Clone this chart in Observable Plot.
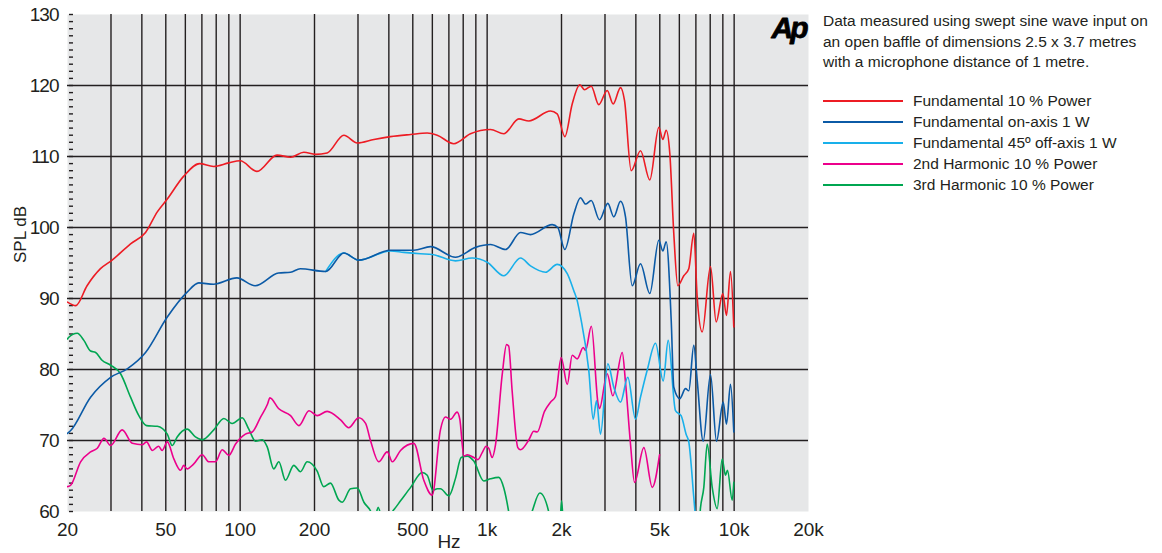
<!DOCTYPE html>
<html><head><meta charset="utf-8">
<script src="https://cdn.jsdelivr.net/npm/d3@7"></script>
<script src="https://cdn.jsdelivr.net/npm/@observablehq/plot@0.6"></script>
<style>
html,body{margin:0;padding:0;background:#fff;}
#wrap{position:relative;width:1162px;height:553px;overflow:hidden;font-family:"Liberation Sans",Arial,sans-serif;}
#note{position:absolute;left:823px;top:11px;font-size:15.5px;line-height:20.5px;color:#231f20;white-space:nowrap;}
#legend{position:absolute;left:823px;top:90px;font-size:15.5px;color:#231f20;}
.row{display:flex;align-items:center;height:21px;white-space:nowrap;}
.sw{width:80px;height:2px;margin-right:10px;}
#chart [aria-label="x tick labels"], #chart [aria-label="y-axis tick label"]{letter-spacing:-1px;}
</style></head>
<body>
<div id="wrap">
  <div id="chart"></div>
  <div id="note">Data measured using swept sine wave input on<br>an open baffle of dimensions 2.5 x 3.7 metres<br>with a microphone distance of 1 metre.</div>
  <div id="legend"></div>
</div>
<script>
// ---- data: [frequency Hz, SPL dB] ----
const fundamental10 = [[20,89.5],[21.6,89.0],[24,91.8],[27.2,94.2],[30.3,95.4],[36,97.7],[41.4,99.3],[46.2,102.2],[50.7,104.0],[59,107.2],[68.5,109.0],[78,108.6],[90,109.1],[100,109.4],[117,107.9],[141,110.2],[160,109.9],[181,110.6],[202,110.3],[225,110.5],[263,113.0],[298,111.9],[348,112.4],[406,112.8],[490,113.1],[572,113.3],[628,113.0],[733,111.8],[856,113.2],[1032,113.8],[1168,113.2],[1344,115.3],[1475,115.0],[1805,116.4],[1921,116.0],[2063,112.8],[2210,117.4],[2372,120.1],[2479,119.4],[2638,119.9],[2831,117.3],[3062,119.3],[3238,117.4],[3467,119.7],[3598,117.9],[3830,108.0],[4177,110.8],[4555,106.7],[4955,114.1],[5143,112.4],[5308,113.7],[5490,110.4],[5698,99.1],[5914,91.8],[6253,93.2],[6552,94.2],[6864,99.2],[7085,90.2],[7424,85.3],[8021,94.5],[8459,86.7],[8995,90.7],[9311,87.6],[9665,93.8],[9968,86.0]];
const onAxis1W = [[20,71.0],[20.6,71.4],[24.8,76.1],[29.9,78.9],[34.9,80.1],[41.4,82.4],[50.7,87.4],[61,90.9],[68,92.2],[78,92.0],[97,92.9],[115,91.8],[143,93.6],[160,93.7],[175,94.2],[222,93.8],[263,96.4],[302,95.4],[406,96.8],[505,96.8],[590,97.3],[744,95.8],[897,97.2],[1032,97.6],[1187,96.9],[1365,99.3],[1498,99.0],[1834,100.4],[1932,100.0],[2063,96.9],[2243,101.9],[2388,104.2],[2502,103.3],[2638,103.8],[2850,101.1],[3080,103.4],[3257,101.5],[3467,103.7],[3632,101.5],[3866,91.8],[4177,94.9],[4555,90.7],[4955,98.2],[5143,96.7],[5308,98.0],[5562,86.9],[5698,77.5],[6026,75.9],[6356,77.3],[6552,77.0],[6864,83.4],[7085,78.5],[7494,69.9],[8021,79.3],[8484,69.9],[9028,75.4],[9311,72.3],[9665,77.9],[9968,71.2]];
const offAxis1W = [[222,93.8],[263,96.4],[302,95.4],[406,96.7],[460,96.5],[537,96.3],[599,96.2],[744,95.3],[870,95.7],[1001,95.1],[1168,93.2],[1365,95.7],[1498,94.6],[1723,93.7],[1921,94.8],[2110,93.5],[2243,91.1],[2315,89.7],[2388,87.4],[2579,79.9],[2688,73.0],[2772,75.6],[2877,70.9],[3080,80.8],[3257,77.5],[3467,75.4],[3710,78.9],[3988,73.0],[4177,76.1],[4446,79.9],[4805,83.7],[5162,78.4],[5408,84.1],[5788,74.2],[6100,73.5],[6400,70.8],[6552,69.8],[6864,62.0],[7060,57.0]];
const harmonic2 = [[20,63.5],[20.6,63.7],[22.6,67.0],[24.8,68.4],[26.4,68.9],[28.1,70.3],[29.9,69.3],[33.3,71.5],[36.6,69.6],[40.1,69.4],[41.8,69.8],[44.1,68.6],[46.8,69.2],[48.3,68.6],[50.7,69.8],[53.9,67.4],[57.4,65.8],[59.1,66.5],[61,66.0],[64.9,66.7],[70.2,68.0],[74.7,67.0],[79.5,67.0],[84.6,68.7],[90,67.9],[95.8,69.5],[105,70.9],[112,71.2],[121,73.3],[129,75.1],[132,76.0],[143,74.5],[160,73.5],[173,72.1],[190,74.2],[205,73.5],[225,74.1],[255,72.9],[275,71.8],[302,73.2],[322,72.4],[337,70.0],[364,67.0],[394,68.4],[413,67.0],[446,68.6],[505,69.6],[554,64.4],[599,62.3],[647,71.5],[678,73.3],[711,73.0],[756,74.0],[775,73.0],[805,67.8],[831,68.0],[883,67.6],[917,67.3],[955,68.3],[991,69.2],[1016,68.9],[1047,67.6],[1081,69.4],[1151,79.3],[1198,83.5],[1222,83.3],[1263,76.9],[1331,69.0],[1365,68.7],[1475,70.1],[1545,71.3],[1595,71.2],[1707,74.1],[1805,75.4],[1891,76.2],[1994,81.7],[2110,77.9],[2210,82.0],[2315,81.5],[2449,83.1],[2502,82.7],[2642,86.1],[2812,75.2],[2850,74.5],[3062,79.4],[3227,76.3],[3523,82.4],[3632,78.2],[3805,69.5],[3951,64.1],[4310,69.0],[4661,63.4],[4989,68.0]];
const harmonic3 = [[20,84.3],[20.2,84.5],[21.9,85.1],[23.3,84.1],[24.8,82.6],[26,82.4],[27.6,81.3],[29.9,80.6],[32.8,79.4],[36,76.1],[38.9,73.5],[41.8,72.1],[46.2,72.0],[50.7,70.9],[53.1,69.3],[55.6,70.5],[61,71.6],[65.9,70.5],[70.2,70.1],[78.2,71.5],[85.9,73.1],[92.9,72.4],[101.9,73.2],[108.4,71.6],[115.4,69.9],[122.9,70.1],[128.7,69.1],[136.8,66.0],[143.4,67.0],[152.6,64.4],[164.9,66.5],[175.5,65.6],[186.8,67.0],[205,65.7],[218,63.5],[232,64.0],[251,61.6],[259,61.3],[280,63.2],[298,63.3],[317,61.3],[337,60.1],[350,58.8],[362,60.6],[378,58.6],[418,60.2],[446,61.5],[490,63.4],[546,65.5],[572,65.1],[603,63.0],[628,63.2],[647,63.2],[700,62.2],[745,64.7],[785,67.6],[831,67.8],[883,67.1],[969,64.3],[1032,64.6],[1115,64.8],[1168,63.3],[1222,60.0],[1260,57],[1420,57],[1520,60.0],[1634,62.6],[1774,60.0],[1830,57],[1960,57],[2003,61.5],[2045,57],[7170,57],[7306,60.5],[7537,63.4],[7780,69.5],[8150,63.4],[8538,60.4],[8944,67.4],[9224,65.1],[9398,65.8],[9820,61.6],[9968,64.1]];

const seriesNames = ["Fundamental 10 % Power","Fundamental on-axis 1 W","Fundamental 45º off-axis 1 W","2nd Harmonic 10 % Power","3rd Harmonic 10 % Power"];
const seriesColors = ["#ed1c24","#0b5aa6","#19b0ea","#ec008c","#00a651"];
const seriesData = [fundamental10, onAxis1W, offAxis1W, harmonic2, harmonic3];
const drawOrder = [4, 3, 2, 1, 0];

const xTicks = [20,50,100,200,500,1000,2000,5000,10000,20000];
const xTickLabels = ["20","50","100","200","500","1k","2k","5k","10k","20k"];
const xGrid = [30,40,50,60,70,80,90,100,200,300,400,500,600,700,800,900,1000,2000,3000,4000,5000,6000,7000,8000,9000,10000];
const yTicks = [60,70,80,90,100,110,120,130];
const yGrid = [70,80,90,100,110,120];
const yMinor = d3.range(60,131,1);

const lineMarks = drawOrder.map(i => Plot.line(seriesData[i], {
  x: d => d[0], y: d => d[1], stroke: seriesColors[i], strokeWidth: 1.6, curve: "monotone-x", clip: true
}));

const chart = Plot.plot({
  width: 1162, height: 553,
  marginLeft: 67, marginRight: 354, marginTop: 14, marginBottom: 42,
  style: {fontFamily: '"Liberation Sans", Arial, sans-serif', color: "#231f20", background: "transparent"},
  x: {type: "log", domain: [20, 20000], axis: null},
  y: {domain: [60, 130]},
  marks: [
    Plot.frame({fill: "#e6e7e8"}),
    Plot.ruleX(xGrid, {stroke: "#231f20", strokeWidth: 1.4}),
    Plot.ruleY(yGrid, {stroke: "#231f20", strokeWidth: 1.4}),
    Plot.axisY({ticks: yMinor, tickSize: -4, dx: 2, tickFormat: () => "", label: null, strokeWidth: 1.4}),
    ...lineMarks,
    Plot.text(xTicks, {x: d => d, text: (d, i) => xTickLabels[i], frameAnchor: "bottom", lineAnchor: "top", dy: 11, fontSize: 19, fill: "#231f20", ariaLabel: "x tick labels"}),
    Plot.axisY({ticks: yTicks, tickSize: 0, tickPadding: 9, fontSize: 19, label: null}),
    Plot.text(["SPL dB"], {frameAnchor: "left", dx: -47, rotate: -90, fontSize: 17, fill: "#231f20"}),
    Plot.text(["Hz"], {frameAnchor: "bottom", dx: 11, dy: 36, fontSize: 19, fill: "#231f20"}),
    Plot.text(["Ap"], {frameAnchor: "top-right", dx: -3, dy: 2, textAnchor: "end", lineAnchor: "top", fontSize: 30, fontWeight: "bold", fontStyle: "italic", fill: "#000", stroke: "#000", strokeWidth: 0.8})
  ]
});
document.getElementById("chart").appendChild(chart);
d3.select(chart).selectAll("text").filter(function(){ return this.textContent === "Ap"; }).style("letter-spacing", "-3px");

const legend = d3.select("#legend");
seriesNames.forEach((name, i) => {
  const row = legend.append("div").attr("class", "row");
  row.append("div").attr("class", "sw").style("background", seriesColors[i]);
  row.append("span").text(name);
});
</script>
</body></html>
